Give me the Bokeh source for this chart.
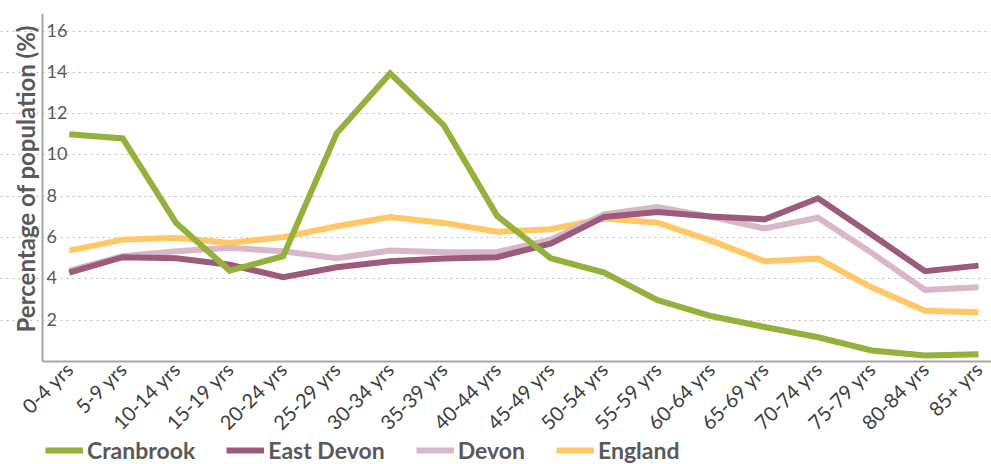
import math
from bokeh.plotting import figure
from bokeh.models import (Range1d, FixedTicker, Legend, LegendItem, ColumnDataSource)
from bokeh.core.properties import value
from bokeh.embed import file_html
from bokeh.resources import INLINE

age_groups = ["0-4 yrs", "5-9 yrs", "10-14 yrs", "15-19 yrs", "20-24 yrs", "25-29 yrs",
              "30-34 yrs", "35-39 yrs", "40-44 yrs", "45-49 yrs", "50-54 yrs", "55-59 yrs",
              "60-64 yrs", "65-69 yrs", "70-74 yrs", "75-79 yrs", "80-84 yrs", "85+ yrs"]

cranbrook = [11.0, 10.8, 6.7, 4.4, 5.1, 11.05, 13.95, 11.45, 7.05, 5.0, 4.3, 2.97,
             2.2, 1.67, 1.17, 0.53, 0.29, 0.35]
east_devon = [4.3, 5.05, 5.0, 4.68, 4.08, 4.56, 4.85, 4.98, 5.05, 5.7, 7.0, 7.24,
              7.02, 6.88, 7.9, 6.15, 4.37, 4.64]
devon = [4.4, 5.1, 5.34, 5.5, 5.34, 5.0, 5.37, 5.29, 5.3, 5.9, 7.12, 7.48,
         7.0, 6.44, 6.96, 5.26, 3.46, 3.59]
england = [5.37, 5.9, 5.99, 5.74, 6.02, 6.55, 6.99, 6.71, 6.28, 6.4, 6.92, 6.72,
           5.85, 4.85, 4.98, 3.59, 2.46, 2.38]

series_names = ["Cranbrook", "East Devon", "Devon", "England"]
series_colors = ["#93b13b", "#9c5a7c", "#d8b8c8", "#ffc864"]

y_ticks = [2, 4, 6, 8, 10, 12, 14, 16]
y_title = "Percentage of population (%)"

FONT = "Lato"
X_AXIS_POS = -0.5          # category axis starts half a category before the first
X_LEFT = -1.285            # room left of the y axis (inside the frame) for the title
X_RIGHT = 17.243
Y_TOP = 16.85
Y_BOTTOM = -4.99           # room under the x axis (inside the frame) for the legend

x = list(range(len(age_groups)))

p = figure(frame_width=991, frame_height=451, output_backend="svg", toolbar_location=None,
           x_range=Range1d(X_LEFT, X_RIGHT), y_range=Range1d(Y_BOTTOM, Y_TOP),
           min_border_left=0, min_border_top=13, min_border_right=0, min_border_bottom=0)
p.outline_line_color = None
p.background_fill_color = "white"
p.border_fill_color = "white"

# grid
p.xgrid.visible = False
p.ygrid.ticker = FixedTicker(ticks=y_ticks)
p.ygrid.bounds = (X_AXIS_POS, X_RIGHT)
p.ygrid.grid_line_color = "#bdbdbd"
p.ygrid.grid_line_dash = "2 4"
p.ygrid.grid_line_width = 1.2

# y axis: line only, drawn at the category axis start
p.yaxis.fixed_location = X_AXIS_POS
p.yaxis.ticker = FixedTicker(ticks=[])
p.yaxis.bounds = (0, Y_TOP)
p.yaxis.axis_line_color = "#a6a6a6"
p.yaxis.axis_line_width = 2
p.yaxis.major_tick_line_color = None
p.yaxis.minor_tick_line_color = None
p.yaxis.major_tick_out = 0
p.yaxis.major_tick_in = 0
p.yaxis.minor_tick_out = 0
p.yaxis.minor_tick_in = 0

# x axis, drawn at y = 0
p.xaxis.fixed_location = 0
p.xaxis.bounds = (X_AXIS_POS, X_RIGHT)
p.xaxis.ticker = FixedTicker(ticks=x)
p.xaxis.major_label_overrides = {i: lab for i, lab in enumerate(age_groups)}
p.xaxis.major_label_orientation = math.pi / 4
p.xaxis.axis_line_color = "#a6a6a6"
p.xaxis.axis_line_width = 2
p.xaxis.major_tick_line_color = None
p.xaxis.minor_tick_line_color = None
p.xaxis.major_tick_out = 0
p.xaxis.major_tick_in = 0
p.xaxis.major_label_text_font = FONT
p.xaxis.major_label_text_font_size = "20px"
p.xaxis.major_label_text_color = "#404040"
p.xaxis.major_label_standoff = 4

# y tick labels inside plot
src_t = ColumnDataSource(dict(x=[X_AXIS_POS] * len(y_ticks), y=y_ticks, t=[str(v) for v in y_ticks]))
p.text(x="x", y="y", text="t", source=src_t, x_offset=4, y_offset=-1,
       text_font=value(FONT), text_font_size="18px", text_color="#595959",
       text_align="left", text_baseline="alphabetic")

# y axis title
p.text(x=[X_AXIS_POS], y=[Y_TOP * 0.525], text=[y_title], angle=math.pi / 2,
       x_offset=-17, text_font=value(FONT), text_font_style="bold", text_font_size="24px",
       text_color="#595959", text_align="center", text_baseline="middle")

order = [3, 2, 1, 0]
all_vals = [cranbrook, east_devon, devon, england]
rmap = {}
for i in order:
    r = p.line(x, all_vals[i], line_color=series_colors[i], line_width=6, line_join="miter")
    rmap[i] = r

legend = Legend(items=[LegendItem(label=series_names[i], renderers=[rmap[i]]) for i in range(4)],
                orientation="horizontal", location=(45, 0),
                glyph_width=38, glyph_height=20, label_standoff=4, spacing=31,
                label_text_font=FONT, label_text_font_size="23px", label_text_font_style="bold",
                label_text_color="#595959", border_line_color=None, background_fill_alpha=0,
                padding=0, margin=0)
p.add_layout(legend, "center")

open("out.html", "w").write(file_html(p, INLINE))
